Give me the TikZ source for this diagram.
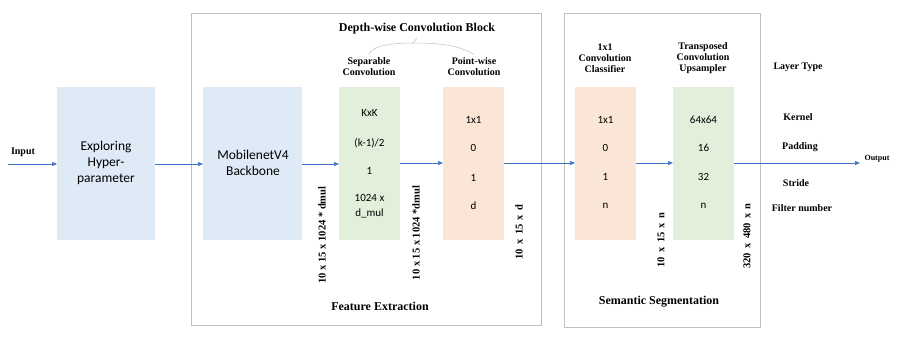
\documentclass[tikz,border=0pt]{standalone}
\usepackage{fontspec}
\setmainfont{Liberation Serif}
\newfontfamily\boxfont{Carlito}
\usetikzlibrary{arrows.meta}
\definecolor{bluefill}{HTML}{DEEAF6}
\definecolor{greenfill}{HTML}{E2EFDA}
\definecolor{orangefill}{HTML}{FBE5D6}
\definecolor{arrowblue}{HTML}{4472C4}
\definecolor{framegray}{HTML}{BFBFBF}
\tikzset{
  blk/.style={minimum width=#1, minimum height=153pt, inner sep=0pt, anchor=north west},
  flow/.style={draw=arrowblue, line width=0.7pt, -{Triangle[length=5pt,width=4pt]}},
  frame/.style={draw=framegray, line width=0.7pt},
  lbl/.style={font=\bfseries\fontsize{10}{11}\selectfont, align=center},
  dimlbl/.style={font=\bfseries\fontsize{10.5}{11}\selectfont, rotate=90},
  btxt/.style={font=\boxfont\fontsize{11}{12}\selectfont},
  bigtxt/.style={font=\boxfont\fontsize{13.5}{16}\selectfont, align=center},
  title/.style={font=\bfseries\fontsize{12}{14}\selectfont}
}
\begin{document}
\begin{tikzpicture}[x=1pt,y=-1pt]
\useasboundingbox (0,0) rectangle (897,337);
% frames
\draw[frame] (191,13) rectangle (541,325);
\draw[frame] (564,13) rectangle (760,327);
% boxes
\node[blk=98pt, fill=bluefill] (explore) at (57,87) {};
\node[bigtxt] at (106,163) {Exploring\\Hyper-\\parameter};
\node[blk=99pt, fill=bluefill] (mobile) at (203,87) {};
\node[bigtxt] at (253,163) {MobilenetV4\\Backbone};
\node[blk=61pt, fill=greenfill] (sep) at (339,87) {};
\node[blk=61pt, fill=orangefill] (pw) at (443,87) {};
\node[blk=61pt, fill=orangefill] (cls) at (575,87) {};
\node[blk=61pt, fill=greenfill] (up) at (673,87) {};
% box contents
\node[btxt] at (369.5,113) {KxK};
\node[btxt] at (369.5,143) {(k-1)/2};
\node[btxt] at (369.5,171) {1};
\node[btxt, align=center, font=\boxfont\fontsize{11}{15}\selectfont] at (369.5,206) {1024 x\\d\_mul};
\node[btxt] at (473.5,120) {1x1};
\node[btxt] at (473.5,148) {0};
\node[btxt] at (473.5,178) {1};
\node[btxt] at (473.5,206) {d};
\node[btxt] at (605.5,120) {1x1};
\node[btxt] at (605.5,148) {0};
\node[btxt] at (605.5,177) {1};
\node[btxt] at (605.5,206) {n};
\node[btxt] at (703.5,120) {64x64};
\node[btxt] at (703.5,148) {16};
\node[btxt] at (703.5,177) {32};
\node[btxt] at (703.5,206) {n};
% headings
\node[title] (dwtitle) at (417,29) {Depth-wise Convolution Block};
\node[lbl] (seplbl) at (369,67) {Separable\\Convolution};
\node[lbl] (pwlbl) at (474,67) {Point-wise\\Convolution};
\node[lbl] at (605,58) {1x1\\Convolution\\Classifier};
\node[lbl] at (703,58) {Transposed\\Convolution\\Upsampler};
\coordinate (brtop) at (413,43);
\draw[framegray, line width=0.5pt] (dwtitle.south) -- (brtop);
\draw[framegray, line width=0.5pt] (seplbl.north) .. controls (372,45) and (395,43) .. (brtop) .. controls (440,43) and (458,45) .. (pwlbl.north);
% right labels
\node[lbl] at (798,67) {Layer Type};
\node[lbl] at (798,117) {Kernel};
\node[lbl] at (800,147) {Padding};
\node[lbl] at (796,183) {Stride};
\node[lbl] at (802,208) {Filter number};
% bottom titles
\node[title] at (380,306) {Feature Extraction};
\node[title] at (659,302) {Semantic Segmentation};
% dims
\node[dimlbl] at (322,235) {10 x 15 x 1024 * dmul};
\node[dimlbl] at (416,233) {10 x 15 x 1024 *dmul};
\node[dimlbl] at (519,232) {10\,\ x\,\ 15\,\ x\,\ d};
\node[dimlbl] at (661,240) {10\,\ x\,\ 15\,\ x\,\ n};
\node[dimlbl] at (747,236) {320\,\ x\,\ 480\,\ x\,\ n};
% arrows
\coordinate (in) at (8,164);
\coordinate (out) at (860,163);
\node[lbl] at (23,152) {Input};
\node[font=\bfseries\fontsize{8}{9}\selectfont] at (877,159) {Output};
\draw[flow] (in) -- (explore.west |- in);
\draw[flow] (explore.east |- in) -- (mobile.west |- in);
\draw[flow] (mobile.east |- in) -- (sep.west |- in);
\draw[flow] (sep.east |- out) -- (pw.west |- out);
\draw[flow] (pw.east |- out) -- (cls.west |- out);
\draw[flow] (cls.east |- out) -- (up.west |- out);
\draw[flow] (up.east |- out) -- (out);
\end{tikzpicture}
\end{document}
